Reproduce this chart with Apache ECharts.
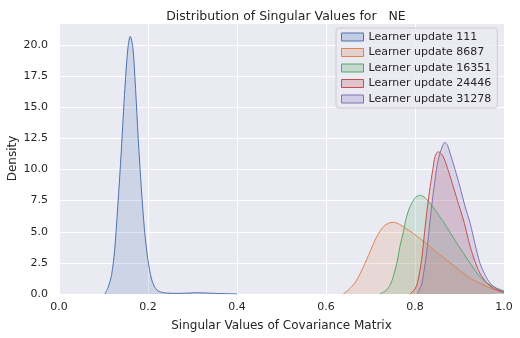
<!DOCTYPE html>
<html>
<head>
<meta charset="utf-8">
<script src="https://cdn.jsdelivr.net/npm/echarts@6/dist/echarts.min.js"></script>
<style>
  html, body { margin: 0; padding: 0; background: #fff; }
  #main { width: 520px; height: 338px; }
</style>
</head>
<body>
<div id="main"></div>
<script>
// values
var seriesNames = ['Learner update 111', 'Learner update 8687', 'Learner update 16351', 'Learner update 24446', 'Learner update 31278'];
var xTicks = [0.0, 0.2, 0.4, 0.6, 0.8, 1.0];
var yTicks = [0.0, 2.5, 5.0, 7.5, 10.0, 12.5, 15.0, 17.5, 20.0];

var x111 = [0.103, 0.110, 0.118, 0.125, 0.132, 0.140, 0.148, 0.155, 0.160, 0.166, 0.172, 0.178, 0.185, 0.192, 0.200, 0.208, 0.216, 0.225, 0.240, 0.270, 0.310, 0.350, 0.400];
var d111 = [0.0, 0.5, 1.5, 3.5, 7.0, 11.5, 16.5, 19.8, 20.7, 19.8, 16.5, 12.5, 8.5, 5.2, 2.7, 1.2, 0.5, 0.2, 0.08, 0.05, 0.1, 0.05, 0.0];

var x8687 = [0.639, 0.654, 0.669, 0.684, 0.699, 0.714, 0.729, 0.740, 0.751, 0.765, 0.780, 0.796, 0.815, 0.834, 0.852, 0.871, 0.890, 0.909, 0.927, 0.946, 0.965, 0.985, 1.0];
var d8687 = [0.0, 0.45, 1.12, 2.19, 3.40, 4.6, 5.41, 5.68, 5.76, 5.6, 5.25, 4.87, 4.35, 3.80, 3.25, 2.73, 2.2, 1.66, 1.2, 0.86, 0.55, 0.3, 0.2];

var x16351 = [0.721, 0.736, 0.745, 0.751, 0.760, 0.766, 0.774, 0.781, 0.790, 0.800, 0.810, 0.820, 0.834, 0.852, 0.871, 0.890, 0.909, 0.927, 0.946, 0.965, 0.984, 1.0];
var d16351 = [0.0, 0.32, 0.8, 1.39, 2.6, 3.80, 5.0, 6.21, 7.1, 7.7, 7.93, 7.8, 7.28, 6.4, 5.41, 4.3, 3.27, 2.3, 1.39, 0.8, 0.46, 0.25];

var x24446 = [0.789, 0.800, 0.807, 0.815, 0.822, 0.828, 0.834, 0.840, 0.845, 0.852, 0.858, 0.864, 0.875, 0.886, 0.898, 0.909, 0.917, 0.924, 0.935, 0.946, 0.960, 0.976, 1.0];
var d24446 = [0.0, 0.4, 1.12, 2.8, 5.14, 7.0, 8.62, 10.0, 11.03, 11.43, 11.3, 11.0, 9.9, 8.62, 7.2, 5.94, 4.8, 3.8, 2.6, 1.66, 0.95, 0.46, 0.1];

var x31278 = [0.805, 0.815, 0.820, 0.826, 0.834, 0.840, 0.845, 0.850, 0.856, 0.862, 0.867, 0.873, 0.879, 0.890, 0.901, 0.912, 0.924, 0.935, 0.946, 0.958, 0.969, 0.985, 1.0];
var d31278 = [0.0, 0.8, 1.8, 3.27, 5.94, 7.8, 9.16, 10.4, 11.3, 11.9, 12.18, 11.95, 11.3, 10.0, 8.62, 7.1, 5.67, 4.0, 2.47, 1.5, 0.86, 0.4, 0.2];

var xs = [x111, x8687, x16351, x24446, x31278];
var ds = [d111, d8687, d16351, d24446, d31278];
var colors = ['#4C72B0', '#DD8452', '#55A868', '#C44E52', '#8172B3'];
var fills = ['rgba(76,114,176,0.25)', 'rgba(221,132,82,0.25)', 'rgba(85,168,104,0.25)', 'rgba(196,78,82,0.25)', 'rgba(129,114,179,0.25)'];

var textColor = '#262626';
var font = 'DejaVu Sans';

var myChart = echarts.init(document.getElementById('main'));

var series = seriesNames.map(function (name, i) {
  return {
    name: name,
    type: 'line',
    smooth: 0.3,
    showSymbol: false,
    symbol: 'none',
    lineStyle: {color: colors[i], width: 1},
    itemStyle: {color: colors[i]},
    areaStyle: {color: fills[i], origin: 'start'},
    data: xs[i].map(function (x, j) { return [x, ds[i][j]]; })
  };
});

var option = {
  animation: false,
  title: {
    text: 'Distribution of Singular Values for   NE',
    left: 281,
    textAlign: 'center',
    top: 5,
    textStyle: {fontFamily: font, fontSize: 12.5, fontWeight: 'normal', color: textColor}
  },
  grid: {
    left: 59, right: 16, top: 23, bottom: 44,
    outerBoundsMode: 'none',
    containLabel: false,
    show: true, backgroundColor: '#EAEAF2', borderWidth: 0
  },
  legend: {
    orient: 'vertical',
    left: 336, top: 28,
    padding: [3, 6, 3, 5],
    itemWidth: 22, itemHeight: 8, itemGap: 3.5, itemTextGap: 7,
    backgroundColor: 'rgba(234,234,242,0.8)',
    borderColor: '#cccccc', borderWidth: 1, borderRadius: 3,
    icon: 'rect',
    textStyle: {fontFamily: font, fontSize: 11, color: textColor, lineHeight: 12},
    data: seriesNames.map(function (name, i) {
      return {name: name, itemStyle: {color: fills[i], borderColor: colors[i], borderWidth: 1}};
    })
  },
  xAxis: {
    type: 'value',
    min: 0, max: 1, interval: 0.2,
    name: 'Singular Values of Covariance Matrix',
    nameLocation: 'middle', nameGap: 26,
    nameTextStyle: {fontFamily: font, fontSize: 12, color: textColor},
    axisLine: {show: false}, axisTick: {show: false},
    axisLabel: {fontFamily: font, fontSize: 11, color: textColor, margin: 8,
      formatter: function (v) { return v.toFixed(1); }},
    splitLine: {lineStyle: {color: '#ffffff', width: 1}}
  },
  yAxis: {
    type: 'value',
    min: 0, max: 21.77, interval: 2.5,
    name: 'Density',
    nameLocation: 'middle', nameGap: 40,
    nameMoveOverlap: false,
    nameTextStyle: {fontFamily: font, fontSize: 12, color: textColor},
    axisLine: {show: false}, axisTick: {show: false},
    axisLabel: {fontFamily: font, fontSize: 11, color: textColor, margin: 11, showMaxLabel: false,
      formatter: function (v) { return v.toFixed(1); }},
    splitLine: {lineStyle: {color: '#ffffff', width: 1}}
  },
  series: series
};

myChart.setOption(option);
</script>
</body>
</html>
